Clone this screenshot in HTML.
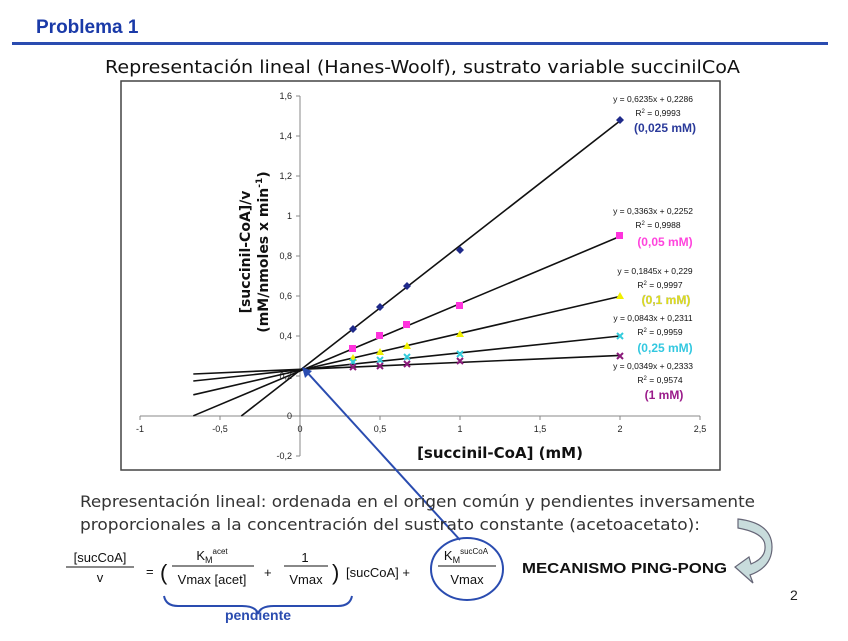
<!DOCTYPE html>
<html><head><meta charset="utf-8"><style>
body{margin:0;background:#fff;width:848px;height:636px;overflow:hidden;font-family:"Liberation Sans",sans-serif}
</style></head><body>
<svg width="848" height="636" xmlns="http://www.w3.org/2000/svg" font-family="Liberation Sans, sans-serif">
<text x="36" y="33" font-size="19" font-weight="bold" fill="#1a3aa8">Problema 1</text>
<rect x="12" y="42" width="816" height="3" fill="#2a4cb0"/>
<text x="105" y="73" font-size="18" fill="#111" textLength="635" lengthAdjust="spacingAndGlyphs" font-family="DejaVu Sans Condensed, DejaVu Sans, sans-serif">Representación lineal (Hanes-Woolf), sustrato variable succinilCoA</text>
<rect x="121" y="81" width="599" height="389" fill="#fff" stroke="#444" stroke-width="1.5"/>
<g stroke="#888" stroke-width="1">
<line x1="140" y1="416" x2="700" y2="416"/>
<line x1="300" y1="96" x2="300" y2="456"/>
<line x1="140" y1="416" x2="140" y2="420"/><line x1="220" y1="416" x2="220" y2="420"/><line x1="300" y1="416" x2="300" y2="420"/><line x1="380" y1="416" x2="380" y2="420"/><line x1="460" y1="416" x2="460" y2="420"/><line x1="540" y1="416" x2="540" y2="420"/><line x1="620" y1="416" x2="620" y2="420"/><line x1="700" y1="416" x2="700" y2="420"/>
<line x1="296" y1="96" x2="300" y2="96"/><line x1="296" y1="136" x2="300" y2="136"/><line x1="296" y1="176" x2="300" y2="176"/><line x1="296" y1="216" x2="300" y2="216"/><line x1="296" y1="256" x2="300" y2="256"/><line x1="296" y1="296" x2="300" y2="296"/><line x1="296" y1="336" x2="300" y2="336"/><line x1="296" y1="376" x2="300" y2="376"/><line x1="296" y1="416" x2="300" y2="416"/><line x1="296" y1="456" x2="300" y2="456"/>
</g>
<g font-size="9" fill="#222" text-anchor="end">
<text x="292" y="99">1,6</text><text x="292" y="139">1,4</text><text x="292" y="179">1,2</text><text x="292" y="219">1</text><text x="292" y="259">0,8</text><text x="292" y="299">0,6</text><text x="292" y="339">0,4</text><text x="292" y="379">0,2</text><text x="292" y="419">0</text><text x="292" y="459">-0,2</text>
</g>
<g font-size="9" fill="#222" text-anchor="middle">
<text x="140" y="432">-1</text><text x="220" y="432">-0,5</text><text x="300" y="432">0</text><text x="380" y="432">0,5</text><text x="460" y="432">1</text><text x="540" y="432">1,5</text><text x="620" y="432">2</text><text x="700" y="432">2,5</text>
</g>
<text x="500" y="458" font-size="15" font-weight="bold" text-anchor="middle" fill="#111" font-family="DejaVu Sans, sans-serif">[succinil-CoA] (mM)</text>
<g transform="translate(250,252) rotate(-90)" font-size="14" font-weight="bold" fill="#111" text-anchor="middle" font-family="DejaVu Sans, sans-serif">
<text x="0" y="0">[succinil-CoA]/v</text>
<text x="0" y="18">(mM/nmoles x min<tspan font-size="9" dy="-6">-1</tspan><tspan dy="6">)</tspan></text>
</g>
<g stroke="#111" stroke-width="1.6">
<line x1="241.3" y1="416" x2="620" y2="120.9"/>
<line x1="193.3" y1="415.8" x2="620" y2="236.4"/>
<line x1="193.3" y1="394.8" x2="620" y2="296.4"/>
<line x1="193.3" y1="381" x2="620" y2="336"/>
<line x1="193.3" y1="374" x2="620" y2="355.4"/>
</g>
<g fill="#1f2a8a">
<path d="M353 325l4 4-4 4-4-4z"/><path d="M380 303l4 4-4 4-4-4z"/><path d="M407 282l4 4-4 4-4-4z"/><path d="M460 246l4 4-4 4-4-4z"/><path d="M620 116l4 4-4 4-4-4z"/>
</g>
<g fill="#ff33dd">
<rect x="349" y="345" width="7" height="7"/><rect x="376" y="332" width="7" height="7"/><rect x="403" y="321" width="7" height="7"/><rect x="456" y="302" width="7" height="7"/><rect x="616" y="232" width="7" height="7"/>
</g>
<g fill="#f0f000">
<path d="M353 354l4 7h-8z"/><path d="M380 348l4 7h-8z"/><path d="M407 342l4 7h-8z"/><path d="M460 330l4 7h-8z"/><path d="M620 292l4 7h-8z"/>
</g>
<g stroke="#33ccdd" stroke-width="2">
<path d="M350 359l6 6M356 359l-6 6"/><path d="M377 357l6 6M383 357l-6 6"/><path d="M404 354l6 6M410 354l-6 6"/><path d="M457 351l6 6M463 351l-6 6"/><path d="M617 333l6 6M623 333l-6 6"/>
</g>
<g stroke="#8a1a7a" stroke-width="2">
<path d="M350 364l6 6M356 364l-6 6"/><path d="M377 363l6 6M383 363l-6 6"/><path d="M404 361l6 6M410 361l-6 6"/><path d="M457 358l6 6M463 358l-6 6"/><path d="M617 353l6 6M623 353l-6 6"/>
</g>
<g font-size="8.5" fill="#111" text-anchor="middle">
<text x="653" y="102">y = 0,6235x + 0,2286</text><text x="658" y="116">R<tspan font-size="6" dy="-3">2</tspan><tspan dy="3"> = 0,9993</tspan></text>
<text x="653" y="214">y = 0,3363x + 0,2252</text><text x="658" y="228">R<tspan font-size="6" dy="-3">2</tspan><tspan dy="3"> = 0,9988</tspan></text>
<text x="655" y="274">y = 0,1845x + 0,229</text><text x="660" y="288">R<tspan font-size="6" dy="-3">2</tspan><tspan dy="3"> = 0,9997</tspan></text>
<text x="653" y="321">y = 0,0843x + 0,2311</text><text x="660" y="335">R<tspan font-size="6" dy="-3">2</tspan><tspan dy="3"> = 0,9959</tspan></text>
<text x="653" y="369">y = 0,0349x + 0,2333</text><text x="660" y="383">R<tspan font-size="6" dy="-3">2</tspan><tspan dy="3"> = 0,9574</tspan></text>
</g>
<g font-size="12" font-weight="bold" text-anchor="middle">
<text x="665" y="132" fill="#2a3a9a">(0,025 mM)</text>
<text x="665" y="246" fill="#ff44dd">(0,05 mM)</text>
<text x="666" y="304" fill="#e8e800" stroke="#aaa" stroke-width="0.3">(0,1 mM)</text>
<text x="665" y="352" fill="#33c8e0">(0,25 mM)</text>
<text x="664" y="399" fill="#9a1a8a">(1 mM)</text>
</g>
<line x1="460" y1="540" x2="305" y2="370" stroke="#2a4cb0" stroke-width="2"/>
<path d="M302 367l3 11 7-7z" fill="#2a4cb0"/>
<g font-size="16" fill="#333" font-family="DejaVu Sans Condensed, DejaVu Sans, sans-serif">
<text x="80" y="507" textLength="675" lengthAdjust="spacingAndGlyphs">Representación lineal: ordenada en el origen común y pendientes inversamente</text>
<text x="80" y="530" textLength="620" lengthAdjust="spacingAndGlyphs">proporcionales a la concentración del sustrato constante (acetoacetato):</text>
</g>
<g font-size="13" fill="#111">
<text x="100" y="562" text-anchor="middle">[sucCoA]</text>
<line x1="66" y1="567" x2="134" y2="567" stroke="#111"/>
<text x="100" y="582" text-anchor="middle">v</text>
<text x="146" y="576">=</text>
<text x="160" y="580" font-size="22">(</text>
<text x="212" y="560" text-anchor="middle">K<tspan font-size="9" dy="3">M</tspan><tspan font-size="8" dy="-9">acet</tspan></text>
<line x1="172" y1="566" x2="254" y2="566" stroke="#111"/>
<text x="212" y="584" text-anchor="middle">Vmax [acet]</text>
<text x="264" y="577">+</text>
<text x="305" y="562" text-anchor="middle">1</text>
<line x1="284" y1="566" x2="328" y2="566" stroke="#111"/>
<text x="306" y="584" text-anchor="middle">Vmax</text>
<text x="332" y="580" font-size="22">)</text>
<text x="346" y="577">[sucCoA] +</text>
<text x="466" y="560" text-anchor="middle">K<tspan font-size="9" dy="3">M</tspan><tspan font-size="8" dy="-9">sucCoA</tspan></text>
<line x1="438" y1="566" x2="496" y2="566" stroke="#111"/>
<text x="467" y="584" text-anchor="middle">Vmax</text>
</g>
<ellipse cx="467" cy="569" rx="36" ry="31" fill="none" stroke="#2a4cb0" stroke-width="2"/>
<text x="522" y="573" font-size="15" font-weight="bold" fill="#111" textLength="205" lengthAdjust="spacingAndGlyphs">MECANISMO PING-PONG</text>
<path d="M164 596q2 10 14 10h64q14 0 16 8q2-8 16-8h64q12 0 14-10" fill="none" stroke="#2a4cb0" stroke-width="2"/>
<text x="258" y="620" font-size="14" font-weight="bold" fill="#2a4cb0" text-anchor="middle">pendiente</text>
<path d="M738 519q34 4 34 28q0 20-22 28l3 8-18-16 14-10 2 7q15-6 14-18q0-13-27-18z" fill="#c8dcdc" stroke="#667" stroke-width="1.2"/>
<text x="790" y="600" font-size="14" fill="#222">2</text>
</svg>
</body></html>
